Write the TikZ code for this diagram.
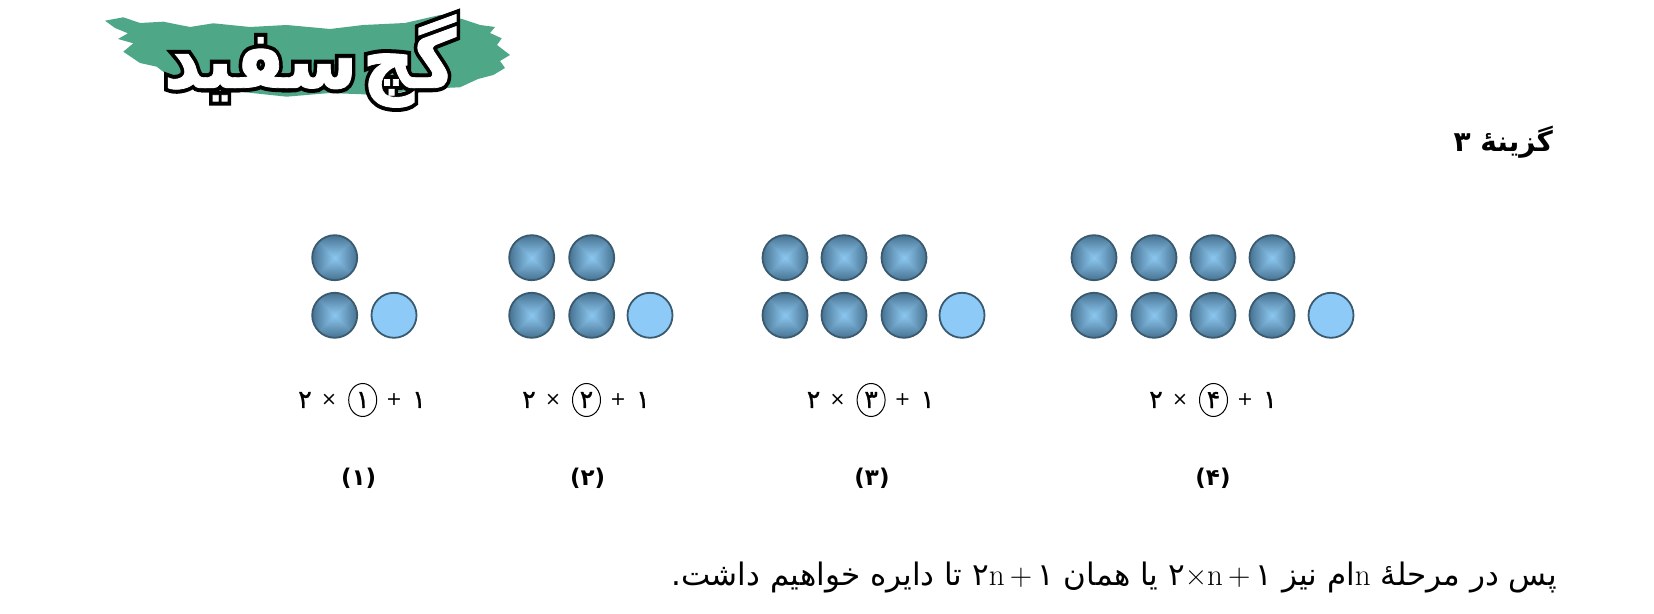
\documentclass[tikz,border=0pt]{standalone}
\usepackage{fontspec}
\usetikzlibrary{shapes.geometric}
\TeXXeTstate=1
\newfontfamily\arabicfont[Script=Arabic]{DejaVu Sans}
\newfontfamily\arabicmid[Script=Arabic,FakeBold=1]{DejaVu Sans}
\newfontfamily\arabicbold[Script=Arabic]{DejaVu Sans Bold}
\newfontfamily\logoouter[Script=Arabic,FakeBold=11]{DejaVu Sans Bold}
\newfontfamily\logoinner[Script=Arabic,FakeBold=1]{DejaVu Sans Bold}
\pgfdeclarefunctionalshading{discshade}{\pgfpoint{-25bp}{-25bp}}{\pgfpoint{25bp}{25bp}}{}{
abs exch abs 2 copy lt {exch} if pop 25 div
dup dup -0.27 mul 0.55 add 3 1 roll -0.33 mul 0.78 add exch -0.37 mul 0.94 add
}
\begin{document}
\begin{tikzpicture}[x=1pt,y=1pt,
darkdisc/.style={circle,draw=edgeColor,line width=1.8pt,minimum size=45pt,inner sep=0pt,outer sep=0pt,shading=discshade},
lightdisc/.style={circle,draw=edgeColor,line width=1.8pt,minimum size=45pt,inner sep=0pt,outer sep=0pt,fill=lightColor},
digit/.style={inner sep=0pt,outer sep=0pt,font=\fontsize{25}{27}\arabicmid},
sign/.style={inner sep=0pt,outer sep=0pt,font=\fontsize{19}{22}\arabicfont},
ring/.style={ellipse,draw=black,line width=1pt,minimum width=28pt,minimum height=33pt,inner sep=0pt,outer sep=0pt,font=\fontsize{25}{27}\arabicmid},
caption/.style={inner sep=0pt,outer sep=0pt,font=\fontsize{23}{26}\arabicbold},
remark/.style={inner sep=0pt,outer sep=0pt,anchor=east},
logotext/.style={inner sep=0pt,outer sep=0pt,yscale=1.12}]
\definecolor{edgeColor}{RGB}{58,90,112}
\definecolor{lightColor}{RGB}{141,202,248}
\definecolor{brushColor}{RGB}{78,168,136}
\path[use as bounding box,fill=white] (0,0) rectangle (1654,613);

\path[fill=brushColor] (105.0,592.3) -- (123.3,595.7) -- (140.0,590.0) -- (163.3,591.3) -- (190.0,586.0) -- (213.3,589.7) --
	(250.0,586.0) -- (286.7,588.0) -- (330.0,584.0) -- (363.3,588.0) -- (405.0,590.0) -- (440.0,598.0) --
	(462.0,594.0) -- (480.0,588.0) -- (495.0,586.0) -- (490.0,580.0) -- (501.7,574.7) -- (497.0,568.0) -- (510.0,558.0) --
	(500.0,552.0) -- (505.0,545.0) -- (493.3,538.0) -- (478.0,534.0) -- (460.0,525.7) -- (420.0,524.0) -- (380.0,518.0) --
	(330.0,520.0) -- (286.7,516.3) -- (230.0,522.3) -- (205.0,526.0) -- (186.7,533.0) -- (170.0,536.0) -- (156.7,546.3) --
	(140.0,550.0) -- (123.3,561.3) -- (133.3,569.7) -- (118.0,574.0) -- (128.0,579.7) -- (115.0,585.0) -- cycle;

\node[logotext,text=black] (logoback) at (310,552) {\fontsize{72}{80}\logoouter\spaceskip=5pt\beginR گچ سفید\endR};

\node[logotext,text=white] (logofront) at (310,552) {\fontsize{72}{80}\logoinner\spaceskip=5pt\beginR گچ سفید\endR};

\node[remark] (answer) at (1553,471) {\fontsize{28}{32}\arabicbold\beginR گزینهٔ ۳\endR};

\node[darkdisc] (a1) at (334.7,355.3) {};

\node[darkdisc] (a2) at (334.7,297.7) {};

\node[lightdisc] (a3) at (394.0,297.7) {};

\node[darkdisc] (b1) at (531.7,355.3) {};

\node[darkdisc] (b2) at (591.7,355.3) {};

\node[darkdisc] (b3) at (531.7,297.7) {};

\node[darkdisc] (b4) at (591.7,297.7) {};

\node[lightdisc] (b5) at (650.0,297.7) {};

\node[darkdisc] (c1) at (785.0,355.3) {};

\node[darkdisc] (c2) at (844.0,355.3) {};

\node[darkdisc] (c3) at (904.0,355.3) {};

\node[darkdisc] (c4) at (785.0,297.7) {};

\node[darkdisc] (c5) at (844.0,297.7) {};

\node[darkdisc] (c6) at (904.0,297.7) {};

\node[lightdisc] (c7) at (962.0,297.7) {};

\node[darkdisc] (d1) at (1094.0,355.3) {};

\node[darkdisc] (d2) at (1154.0,355.3) {};

\node[darkdisc] (d3) at (1213.0,355.3) {};

\node[darkdisc] (d4) at (1272.0,355.3) {};

\node[darkdisc] (d5) at (1094.0,297.7) {};

\node[darkdisc] (d6) at (1154.0,297.7) {};

\node[darkdisc] (d7) at (1213.0,297.7) {};

\node[darkdisc] (d8) at (1272.0,297.7) {};

\node[lightdisc] (d9) at (1331.0,297.7) {};

\node[digit] (atwo) at (305.0,213) {۲};

\node[sign] (atimes) at (329.0,213) {×};

\node[ring] (aring) at (362.7,213) {۱};

\node[sign] (aplus) at (394.0,213) {+};

\node[digit] (aone) at (419.0,213) {۱};

\node[digit] (btwo) at (529.0,213) {۲};

\node[sign] (btimes) at (553.0,213) {×};

\node[ring] (bring) at (586.5,213) {۲};

\node[sign] (bplus) at (618.0,213) {+};

\node[digit] (bone) at (643.0,213) {۱};

\node[digit] (ctwo) at (813.6,213) {۲};

\node[sign] (ctimes) at (837.6,213) {×};

\node[ring] (cring) at (871.1,213) {۳};

\node[sign] (cplus) at (902.6,213) {+};

\node[digit] (cone) at (927.6,213) {۱};

\node[digit] (dtwo) at (1156.0,213) {۲};

\node[sign] (dtimes) at (1180.0,213) {×};

\node[ring] (dring) at (1213.5,213) {۴};

\node[sign] (dplus) at (1245.0,213) {+};

\node[digit] (done) at (1270.0,213) {۱};

\node[caption] (stepa) at ( 358.7,135) {\beginR(۱)\endR};

\node[caption] (stepb) at ( 587.6,135) {\beginR(۲)\endR};

\node[caption] (stepc) at ( 872.0,135) {\beginR(۳)\endR};

\node[caption] (stepd) at (1213.0,135) {\beginR(۴)\endR};

\node[remark] (closing) at (1557,35) {\fontsize{31}{36}\arabicfont\beginR پس در مرحلهٔ \beginL{\rmfamily n}\endL ام نیز \beginL ۲{\rmfamily ×n\,+\,}۱\endL{} یا همان \beginL ۲{\rmfamily n\,+\,}۱\endL{} تا دایره خواهیم داشت.\endR};
\end{tikzpicture}
\end{document}
